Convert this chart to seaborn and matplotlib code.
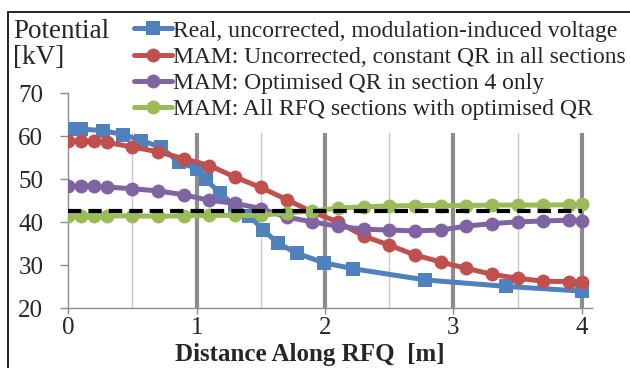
import numpy as np
import pandas as pd
import matplotlib
matplotlib.use("Agg")
import matplotlib.pyplot as plt
from matplotlib import font_manager as fm
from matplotlib.lines import Line2D
from matplotlib.patches import Rectangle
import seaborn as sns

# ---- data ----
blue_x = [0, 0.05, 0.1, 0.27, 0.43, 0.57, 0.72, 0.86, 1.0, 1.07, 1.18, 1.3, 1.41,
          1.52, 1.63, 1.78, 1.99, 2.22, 2.78, 3.41, 4.0]
blue_y = [61.8, 61.8, 61.7, 61.3, 60.4, 59.0, 57.5, 54.0, 52.5, 50.0, 46.8, 43.8, 41.5,
          38.2, 35.2, 32.8, 30.6, 29.2, 26.6, 25.1, 24.0]

mam_x = [0, 0.1, 0.2, 0.3, 0.5, 0.7, 0.9, 1.1, 1.3, 1.5, 1.7, 1.9, 2.1, 2.3, 2.5,
         2.7, 2.9, 3.1, 3.3, 3.5, 3.7, 3.9, 4.0]
red_y = [58.8, 58.8, 58.8, 58.6, 57.5, 56.4, 54.8, 53.2, 50.5, 48.1, 45.3, 42.4,
         40.1, 36.8, 34.7, 32.4, 30.8, 29.3, 27.9, 27.0, 26.3, 26.2, 26.2]
purple_y = [48.4, 48.4, 48.4, 48.2, 47.8, 47.3, 46.4, 45.1, 44.4, 43.2, 41.2, 40.1,
            39.1, 38.4, 38.2, 38.0, 38.2, 39.1, 39.7, 40.1, 40.3, 40.5, 40.4]
green_y = [41.5, 41.5, 41.5, 41.5, 41.5, 41.4, 41.5, 41.6, 41.6, 41.6, 42.2, 42.6,
           43.3, 43.6, 43.8, 43.9, 43.9, 43.9, 44.0, 44.0, 44.0, 44.1, 44.2]
target_x = [0, 4]
target_y = [42.7, 42.7]

labels = ["Real, uncorrected, modulation-induced voltage",
          "MAM: Uncorrected, constant QR in all sections",
          "MAM: Optimised QR in section 4 only",
          "MAM: All RFQ sections with optimised QR"]
colors = ["#4F81BD", "#C0504D", "#8064A2", "#9BBB59"]

yticks = [20, 30, 40, 50, 60, 70]
xticks = [0, 1, 2, 3, 4]

for f in fm.findSystemFonts():
    if "LiberationSerif" in f:
        try:
            fm.fontManager.addfont(f)
        except Exception:
            pass

sns.set_theme(style="white")
plt.rcParams["font.family"] = ["Liberation Serif", "DejaVu Serif"]

fig = plt.figure(figsize=(6.3, 3.68), dpi=100)
W, H = 630, 368
ax = fig.add_axes([68.3 / W, 1 - 308.3 / H, (592 - 68.3) / W, (308.3 - 93.3) / H])

series = [(blue_x, blue_y, "s", 10), (mam_x, red_y, "o", 10),
          (mam_x, purple_y, "o", 10), (mam_x, green_y, "o", 10)]
for i, (xs, ys, m, ms) in enumerate(series):
    df = pd.DataFrame({"x": xs, "y": ys})
    sns.lineplot(data=df, x="x", y="y", ax=ax, color=colors[i], lw=3.6,
                 marker=m, markersize=ms, markeredgewidth=0, zorder=3 + i,
                 legend=False, sort=False)

df_t = pd.DataFrame({"x": target_x, "y": target_y})
sns.lineplot(data=df_t, x="x", y="y", ax=ax, color="black", lw=3,
             zorder=8, legend=False)
ax.lines[-1].set_dashes((3.2, 1.7))

ax.set_xlim(0, 4.08)
ax.set_ylim(20, 70)
ax.set_xticks(xticks)
ax.set_yticks(yticks)
ax.set_xticklabels([str(v) for v in xticks])
ax.set_yticklabels([str(v) for v in yticks])

# vertical grid lines
for xv in xticks[1:]:
    ax.axvline(xv, color="#8C8C8C", lw=3, zorder=1)
for xv in [0.5, 1.5, 2.5, 3.5]:
    ax.axvline(xv, color="#C8C8C8", lw=1, zorder=1)

# white legend area covering the top of the gridlines
ax.add_patch(Rectangle((0.47, 60.7), 4.0, 12, facecolor="white", edgecolor="none",
                       zorder=2, clip_on=False))

for s in ["top", "right"]:
    ax.spines[s].set_visible(False)
for s in ["left", "bottom"]:
    ax.spines[s].set_color("#8C8C8C")
    ax.spines[s].set_linewidth(1)
ax.tick_params(axis="y", direction="out", length=6, width=1, color="#8C8C8C",
               pad=12, left=True, labelsize=18)
ax.tick_params(axis="x", direction="out", length=4, width=1, color="#8C8C8C",
               pad=2, bottom=True, labelsize=18)
ax.set_xlabel("")
ax.set_ylabel("")

fig.text(310 / W, 1 - 355 / H, "Distance Along RFQ  [m]", fontsize=18,
         fontweight="bold", ha="center", va="center")
fig.text(13 / W, 1 - 19 / H, "Potential\n[kV]", fontsize=19.5, ha="left", va="top",
         linespacing=1.05)

handles = []
for i, (xs, ys, m, ms) in enumerate(series):
    handles.append(Line2D([], [], color=colors[i], lw=3.6, marker=m, markersize=ms,
                          markeredgewidth=0))
fig.legend(handles, labels, loc="upper left", bbox_to_anchor=(134 / W, 1 - 20 / H),
           frameon=False, fontsize=17, handlelength=1.6, handletextpad=0.05,
           labelspacing=0.2, borderpad=0, borderaxespad=0)

# outer border
fig.patches.append(Rectangle((8 / W, -0.5), 2, 1.5 - 12 / H, transform=fig.transFigure,
                             fill=False, edgecolor="black", lw=1.2, zorder=0))

fig.savefig("out.png", dpi=100)
